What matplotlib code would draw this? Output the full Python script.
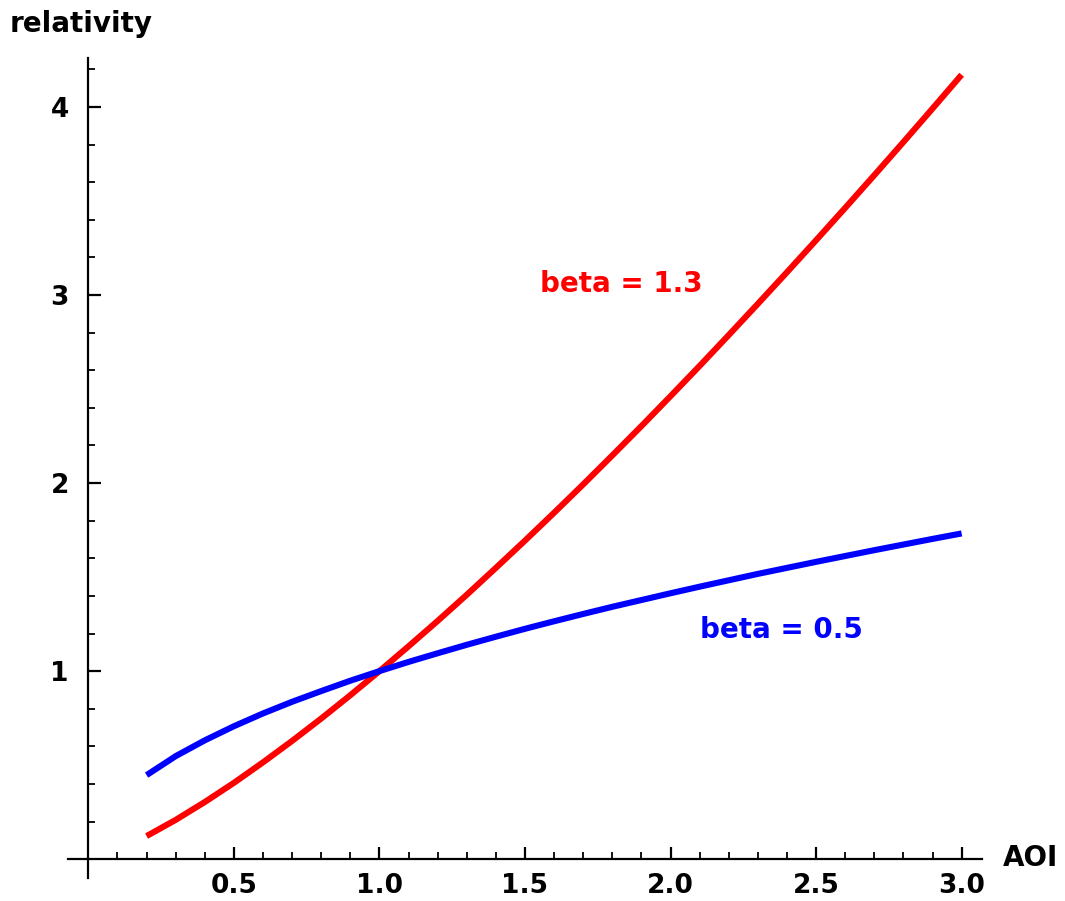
import matplotlib
matplotlib.use("Agg")
import matplotlib.pyplot as plt
from matplotlib.ticker import MultipleLocator, FixedLocator

aoi = [0.2, 0.3, 0.4, 0.5, 0.6, 0.7, 0.8, 0.9, 1.0, 1.1, 1.2, 1.3, 1.4, 1.5,
       1.6, 1.7, 1.8, 1.9, 2.0, 2.1, 2.2, 2.3, 2.4, 2.5, 2.6, 2.7, 2.8, 2.9, 3.0]
rel_beta13 = [0.123, 0.209, 0.304, 0.406, 0.515, 0.629, 0.748, 0.872, 1.000,
              1.132, 1.267, 1.406, 1.549, 1.694, 1.842, 1.993, 2.147, 2.303,
              2.462, 2.623, 2.787, 2.953, 3.121, 3.291, 3.463, 3.637, 3.813,
              3.991, 4.171]
rel_beta05 = [0.447, 0.548, 0.632, 0.707, 0.775, 0.837, 0.894, 0.949, 1.000,
              1.049, 1.095, 1.140, 1.183, 1.225, 1.265, 1.304, 1.342, 1.378,
              1.414, 1.449, 1.483, 1.517, 1.549, 1.581, 1.612, 1.643, 1.673,
              1.703, 1.732]
x_ticks = [0.5, 1.0, 1.5, 2.0, 2.5, 3.0]
x_tick_labels = ["0.5", "1.0", "1.5", "2.0", "2.5", "3.0"]
y_ticks = [1, 2, 3, 4]
y_tick_labels = ["1", "2", "3", "4"]

W, H = 1065, 901
fig = plt.figure(figsize=(W / 100, H / 100), dpi=100)
left, right, top, bottom = 68, 982, 58, 878
ax = fig.add_axes([left / W, 1 - bottom / H, (right - left) / W, (bottom - top) / H])
ax.set_xlim(-0.07, 3.07)
ax.set_ylim(-0.1, 4.26)

ax.plot(aoi, rel_beta13, color="#ff0000", lw=4.4, solid_capstyle="butt", clip_on=False)
ax.plot(aoi, rel_beta05, color="#0000ff", lw=4.4, solid_capstyle="butt", clip_on=False)

for s in ["top", "right"]:
    ax.spines[s].set_visible(False)
ax.spines["left"].set_position(("data", 0))
ax.spines["bottom"].set_position(("data", 0))
for s in ["left", "bottom"]:
    ax.spines[s].set_linewidth(1.6)
    ax.spines[s].set_color("black")

ax.xaxis.set_major_locator(FixedLocator(x_ticks))
ax.set_xticklabels(x_tick_labels)
ax.xaxis.set_minor_locator(MultipleLocator(0.1))
ax.yaxis.set_major_locator(FixedLocator(y_ticks))
ax.set_yticklabels(y_tick_labels)
ax.yaxis.set_minor_locator(MultipleLocator(0.2))

ax.tick_params(axis="both", which="major", direction="in", length=9, width=1.6,
               labelsize=19, pad=14)
ax.tick_params(axis="both", which="minor", direction="in", length=5, width=1.3)
ax.tick_params(axis="x", which="major", pad=10)
for lab in ax.get_xticklabels() + ax.get_yticklabels():
    lab.set_fontweight("bold")

fig.text(10 / W, 1 - 24 / H, "relativity", fontsize=20, fontweight="bold",
         ha="left", va="center")
fig.text(1003 / W, 1 - 858 / H, "AOI", fontsize=20, fontweight="bold",
         ha="left", va="center")

ax.text(1.83, 3.06, "beta = 1.3", color="#ff0000", fontsize=20,
        fontweight="bold", ha="center", va="center")
ax.text(2.38, 1.22, "beta = 0.5", color="#0000ff", fontsize=20,
        fontweight="bold", ha="center", va="center")

fig.savefig("out.png", dpi=100)
